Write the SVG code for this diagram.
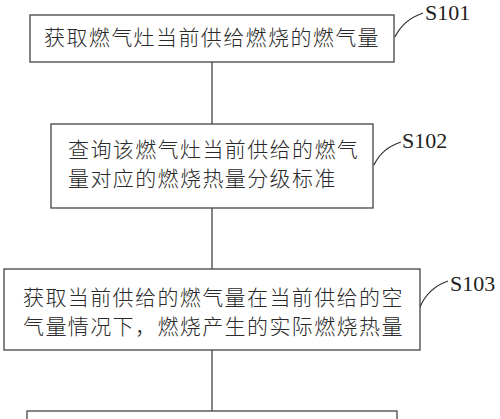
<svg xmlns="http://www.w3.org/2000/svg" width="500" height="419" viewBox="0 0 500 419">
<style>
.box{fill:#fff;stroke:#444;stroke-width:1.3}
.t{font-family:"Noto Sans CJK SC","Noto Sans",sans-serif;font-size:21px;font-weight:300;letter-spacing:1.4px;fill:#2a2a2a}
.lbl{font-family:"Liberation Serif",serif;font-size:22px;fill:#222}
.ld{fill:none;stroke:#333;stroke-width:1.2}
.c{stroke:#444;stroke-width:1.3}
</style>
<rect width="500" height="419" fill="#fff"/>
<g id="connectors">
<line class="c" x1="212" y1="62" x2="212" y2="124"/>
<line class="c" x1="212" y1="208" x2="212" y2="269"/>
<line class="c" x1="212" y1="350" x2="212" y2="411"/>
</g>
<g id="s101">
<rect class="box" x="30" y="15" width="364" height="47"/>
<text class="t" x="44" y="45">获取燃气灶当前供给燃烧的燃气量</text>
<path class="ld" d="M395,37 Q403,20 423,13"/>
<text class="lbl" x="425" y="20">S101</text>
</g>
<g id="s102">
<rect class="box" x="51" y="124" width="322" height="84"/>
<text class="t" x="68" y="157">查询该燃气灶当前供给的燃气</text>
<text class="t" x="68" y="186">量对应的燃烧热量分级标准</text>
<path class="ld" d="M374,165 Q382,148 401,142"/>
<text class="lbl" x="402" y="148">S102</text>
</g>
<g id="s103">
<rect class="box" x="4" y="269" width="416" height="81"/>
<text class="t" x="23" y="305">获取当前供给的燃气量在当前供给的空</text>
<text class="t" x="23" y="334">气量情况下，燃烧产生的实际燃烧热量</text>
<path class="ld" d="M420,307 Q428,288 448,281"/>
<text class="lbl" x="450" y="291">S103</text>
</g>
<g id="s104">
<rect class="box" x="27" y="411" width="370" height="30"/>
</g>
</svg>
